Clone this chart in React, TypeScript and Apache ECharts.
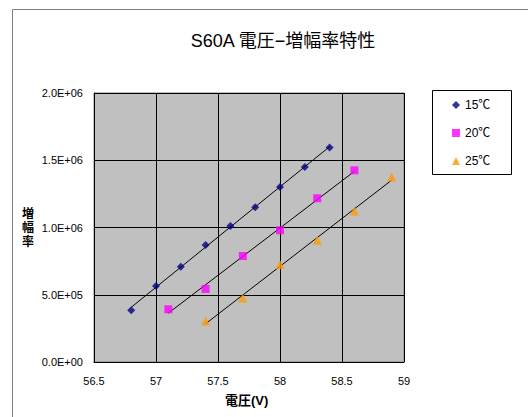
import React, { useEffect, useRef } from "react";
import * as echarts from "echarts";

const seriesNames = ["15℃", "20℃", "25℃"];
const x15 = [56.8, 57.0, 57.2, 57.4, 57.6, 57.8, 58.0, 58.2, 58.4];
const y15 = [384000, 565000, 709000, 870000, 1011000, 1150000, 1301000, 1450000, 1594000];
const x20 = [57.1, 57.4, 57.7, 58.0, 58.3, 58.6];
const y20 = [392000, 543000, 788000, 979000, 1217000, 1425000];
const x25 = [57.4, 57.7, 58.0, 58.3, 58.6, 58.9];
const y25 = [305000, 476000, 724000, 905000, 1123000, 1375000];
const colors = ["#000080", "#FF00FF", "#FF9900"];
const symbols = ["diamond", "rect", "triangle"];
const symbolSizes = [8, 8, 9];

const FONT = "'Liberation Sans', 'Noto Sans CJK JP', sans-serif";

function trend(xs: number[], ys: number[]): number[][] {
  const n = xs.length;
  const mx = xs.reduce((a, b) => a + b, 0) / n;
  const my = ys.reduce((a, b) => a + b, 0) / n;
  let sxy = 0, sxx = 0;
  for (let i = 0; i < n; i++) {
    sxy += (xs[i] - mx) * (ys[i] - my);
    sxx += (xs[i] - mx) * (xs[i] - mx);
  }
  const b = sxy / sxx;
  const a = my - b * mx;
  const x0 = Math.min(...xs), x1 = Math.max(...xs);
  return [[x0, a + b * x0], [x1, a + b * x1]];
}

function fmtE(v: number): string {
  if (v === 0) return "0.0E+00";
  const e = Math.floor(Math.log10(Math.abs(v)));
  const m = v / Math.pow(10, e);
  return m.toFixed(1) + "E+" + String(e).padStart(2, "0");
}

export default function App() {
  const ref = useRef<HTMLDivElement>(null);
  useEffect(() => {
    document.body.style.margin = "0";
    const chart = echarts.init(ref.current!, null, { renderer: "svg" });
    const xsAll = [x15, x20, x25];
    const ysAll = [y15, y20, y25];
    const scatter = xsAll.map((xs, i) => ({
      name: seriesNames[i],
      type: "scatter",
      data: xs.map((x, j) => [x, ysAll[i][j]]),
      symbol: symbols[i],
      symbolSize: symbolSizes[i],
      itemStyle: { color: colors[i] },
      z: 3,
    }));
    const lines = xsAll.map((xs, i) => ({
      name: "trend" + i,
      type: "line",
      data: trend(xs, ysAll[i]),
      symbol: "none",
      lineStyle: { color: "#000", width: 1 },
      z: 2,
    }));
    chart.setOption({
      animation: false,
      backgroundColor: "#fff",
      textStyle: { fontFamily: FONT },
      title: {
        text: "S60A 電圧−増幅率特性",
        left: 278,
        top: 27,
        textAlign: "center",
        textStyle: { fontSize: 18, fontWeight: "normal", color: "#000", fontFamily: FONT },
      },
      grid: {
        left: 94,
        top: 93,
        width: 310,
        height: 269,
        show: true,
        backgroundColor: "#C0C0C0",
        borderColor: "#808080",
        borderWidth: 1,
      },
      xAxis: {
        type: "value",
        min: 56.5,
        max: 59,
        interval: 0.5,
        axisLine: { show: true, onZero: false, lineStyle: { color: "#000" } },
        axisTick: { show: false },
        splitLine: { show: true, lineStyle: { color: "#000", width: 1 } },
        axisLabel: { fontSize: 11, color: "#000", margin: 13, fontFamily: FONT },
      },
      yAxis: {
        type: "value",
        min: 0,
        max: 2000000,
        interval: 500000,
        axisLine: { show: true, lineStyle: { color: "#000" } },
        axisTick: { show: false },
        splitLine: { show: true, lineStyle: { color: "#000", width: 1 } },
        axisLabel: { fontSize: 11, color: "#000", margin: 11, formatter: fmtE, fontFamily: FONT },
      },
      legend: {
        orient: "vertical",
        left: 452,
        top: 99,
        data: seriesNames,
        itemWidth: 8,
        itemHeight: 8,
        itemGap: 16,
        padding: 0,
        textStyle: { fontSize: 12, color: "#000", fontFamily: FONT, padding: [0, 0, 0, 0] },
      },
      graphic: [
        {
          type: "rect",
          shape: { x: 12.5, y: 9.5, width: 600, height: 500 },
          style: { fill: "none", stroke: "#808080", lineWidth: 1 },
          z: -1,
        },
        {
          type: "rect",
          shape: { x: 432.5, y: 90.5, width: 79, height: 84 },
          style: { fill: "#fff", stroke: "#000", lineWidth: 1 },
          z: -1,
        },
        {
          type: "text",
          left: 22,
          top: 207,
          style: {
            text: "増\n幅\n率",
            font: "bold 12px " + FONT,
            lineHeight: 14,
            fill: "#000",
          },
        },
        {
          type: "text",
          left: 225,
          top: 394,
          style: {
            text: "電圧(V)",
            font: "bold 13px " + FONT,
            fill: "#000",
          },
        },
      ],
      series: [...lines, ...scatter],
    });
    return () => chart.dispose();
  }, []);
  return <div ref={ref} style={{ width: 528, height: 417 }} />;
}
